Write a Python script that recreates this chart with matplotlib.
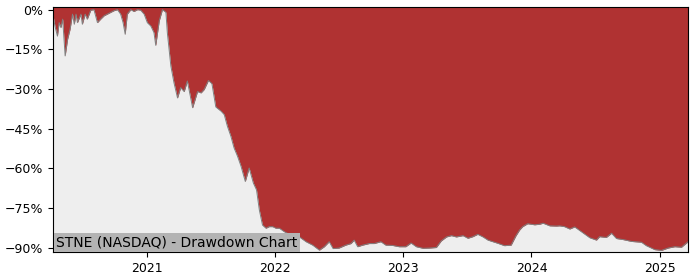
import matplotlib
matplotlib.use("Agg")
import matplotlib.pyplot as plt
import matplotlib.dates as mdates
from matplotlib.ticker import FuncFormatter
import pandas as pd

ticker = "STNE (NASDAQ) - Drawdown Chart"

dates = [
    "2020-04-09", "2020-04-14", "2020-04-21", "2020-04-26", "2020-05-01", "2020-05-06",
    "2020-05-13", "2020-05-20", "2020-05-27", "2020-06-03", "2020-06-08", "2020-06-13",
    "2020-06-17", "2020-06-27", "2020-07-01", "2020-07-09", "2020-07-15", "2020-07-25",
    "2020-08-03", "2020-08-13", "2020-08-22", "2020-09-01", "2020-09-10", "2020-09-20",
    "2020-09-29", "2020-10-09", "2020-10-18", "2020-10-25", "2020-10-31", "2020-11-06",
    "2020-11-16", "2020-11-25", "2020-12-05", "2020-12-14", "2020-12-24", "2021-01-02",
    "2021-01-12", "2021-01-21", "2021-01-26", "2021-02-05", "2021-02-14", "2021-02-24",
    "2021-02-28", "2021-03-10", "2021-03-19", "2021-03-29", "2021-04-07", "2021-04-17",
    "2021-04-26", "2021-05-11", "2021-05-25", "2021-06-04", "2021-06-13", "2021-06-25",
    "2021-07-05", "2021-07-16", "2021-07-31", "2021-08-09", "2021-08-18", "2021-08-28",
    "2021-09-06", "2021-09-16", "2021-09-26", "2021-10-08", "2021-10-19", "2021-10-31",
    "2021-11-09", "2021-11-17", "2021-11-26", "2021-12-06", "2021-12-15", "2021-12-25",
    "2022-01-03", "2022-01-13", "2022-01-27", "2022-02-10", "2022-02-20", "2022-03-06",
    "2022-03-30", "2022-04-18", "2022-05-07", "2022-05-21", "2022-06-04", "2022-06-15",
    "2022-07-02", "2022-07-21", "2022-08-05", "2022-08-14", "2022-08-24", "2022-09-07",
    "2022-09-26", "2022-10-10", "2022-10-29", "2022-11-12", "2022-12-01", "2022-12-20",
    "2022-12-30", "2023-01-08", "2023-01-23", "2023-02-07", "2023-02-26", "2023-03-17",
    "2023-04-05", "2023-04-19", "2023-05-04", "2023-05-18", "2023-06-01", "2023-06-20",
    "2023-07-04", "2023-07-18", "2023-08-01", "2023-08-16", "2023-08-30", "2023-09-13",
    "2023-09-27", "2023-10-16", "2023-11-04", "2023-11-18", "2023-11-28", "2023-12-07",
    "2023-12-21", "2024-01-10", "2024-01-24", "2024-02-03", "2024-02-22", "2024-03-12",
    "2024-03-21", "2024-04-04", "2024-04-19", "2024-05-03", "2024-05-22", "2024-06-15",
    "2024-07-04", "2024-07-13", "2024-08-01", "2024-08-16", "2024-08-30", "2024-09-18",
    "2024-10-12", "2024-11-09", "2024-11-23", "2024-12-17", "2025-01-05", "2025-01-24",
    "2025-02-12", "2025-03-03", "2025-03-22",
]

drawdown = [
    -2.5, -6.2, -10.0, -4.9, -6.8, -3.6,
    -17.5, -11.2, -7.4, -1.7, -5.5, -1.7,
    -4.9, -1.7, -5.5, -1.7, -3.6, -0.2,
    0.0, -4.9, -3.6, -2.3, -1.7, -1.0,
    -0.4, 0.0, -1.7, -4.9, -9.3, -1.7,
    0.0, -0.7, 0.0, -0.2, -1.7, -4.9,
    -6.2, -8.7, -13.5, -4.2, 0.0, -1.0,
    -8.7, -21.3, -27.7, -33.4, -29.5, -31.0,
    -27.0, -37.1, -31.0, -31.5, -30.2, -26.8,
    -28.0, -36.8, -38.4, -39.7, -44.1, -47.9,
    -52.3, -55.5, -59.3, -65.0, -59.9, -65.6,
    -68.2, -75.8, -81.5, -82.7, -82.1, -82.1,
    -82.7, -82.7, -84.0, -85.0, -85.3, -85.5,
    -87.8, -89.1, -91.0, -89.7, -87.8, -90.4,
    -90.2, -89.1, -88.5, -87.2, -89.7, -89.1,
    -88.5, -88.5, -87.8, -89.1, -89.2, -89.7,
    -89.7, -89.7, -88.3, -89.7, -90.3, -90.2,
    -90.0, -87.5, -86.0, -85.5, -86.0, -85.5,
    -86.5, -85.9, -85.0, -86.0, -87.2, -87.8,
    -88.4, -89.3, -89.1, -85.5, -83.4, -82.1,
    -81.0, -81.4, -81.2, -80.8, -81.8, -81.9,
    -81.8, -82.1, -83.0, -82.2, -84.0, -86.3,
    -87.2, -85.9, -86.2, -84.6, -86.6, -87.0,
    -87.7, -88.0, -89.3, -90.8, -91.1, -90.2,
    -89.7, -89.9, -87.8,
]

y_ticks = [0, -15, -30, -45, -60, -75, -90]

x = pd.to_datetime(dates)

fig = plt.figure(figsize=(7, 2.8), dpi=100)
ax = fig.add_axes([0.076, 0.099, 0.907, 0.875])
ax.set_facecolor("#eeeeee")

y_top = 0.9
y_bottom = -91.8
ax.fill_between(x, drawdown, y_top, color="#b03232", linewidth=0)
ax.plot(x, drawdown, color="#808080", linewidth=0.7)

ax.set_xlim(x[0], x[-1])
ax.set_ylim(y_bottom, y_top)
ax.set_yticks(y_ticks)
ax.yaxis.set_major_formatter(FuncFormatter(lambda v, p: "{:.0f}%".format(v).replace("-", "\u2212")))
ax.xaxis.set_major_locator(mdates.YearLocator())
ax.xaxis.set_major_formatter(mdates.DateFormatter("%Y"))
ax.tick_params(labelsize=9)

ax.text(0.005, 0.012, ticker, transform=ax.transAxes, fontsize=10, ha="left", va="bottom",
        bbox=dict(facecolor="#b3b3b3", edgecolor="none", pad=2))

fig.savefig("out.png", dpi=100)
